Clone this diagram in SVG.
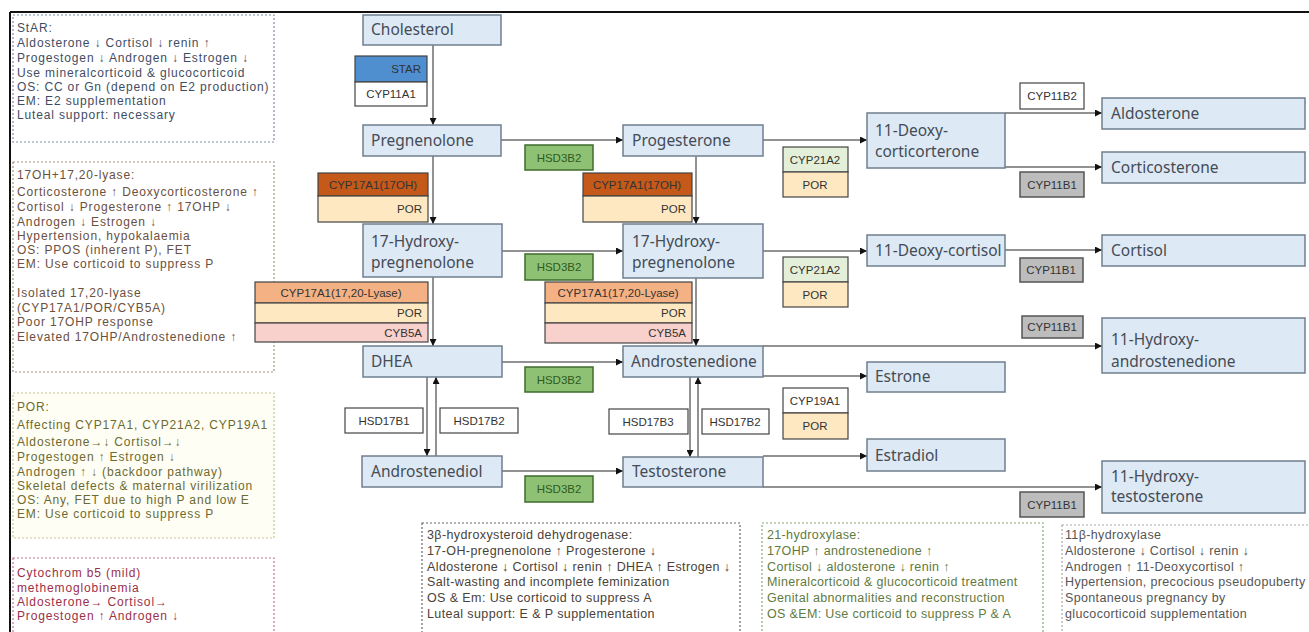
<svg xmlns="http://www.w3.org/2000/svg" width="1309" height="632" viewBox="0 0 1309 632">
<defs>
<marker id="ah" viewBox="0 0 10 10" refX="10" refY="5" markerWidth="7" markerHeight="7" markerUnits="userSpaceOnUse" orient="auto">
<path d="M0,0 L10,5 L0,10 z" fill="#111"/>
</marker>
<style>
.met{fill:#dde9f5;stroke:#6f7f8f;stroke-width:1.5}
.mt{font-family:"Noto Sans","Liberation Sans",sans-serif;font-size:15.5px;fill:#454c55}
.enz{stroke:#444;stroke-width:1.2}
.et{font-family:"Liberation Sans","Noto Sans",sans-serif;font-size:11.5px;fill:#333}
.grn{fill:#8fc174;stroke:#3f6b2c;stroke-width:1.5}
.gt{font-family:"Liberation Sans",sans-serif;font-size:11.5px;fill:#2f5a20}
.gry{fill:#bdbdbd;stroke:#555;stroke-width:1.5}
.wht{fill:#fff}
.por{fill:#fde8c2}
.cyb{fill:#f8d0cc}
.lya{fill:#f3b184}
.oh{fill:#c4591a}
.c21{fill:#e3efd9}
.conn line{stroke:#6e6e6e;stroke-width:1.5;marker-end:url(#ah)}
.note{stroke-width:1.2;stroke-dasharray:2,2}
.nt{font-family:"Liberation Sans","Noto Sans",sans-serif;font-size:12.5px;letter-spacing:0.4px}
.nl{font-size:12px;letter-spacing:0.85px}
.n11{letter-spacing:0.35px}
</style>
</defs>
<rect width="1309" height="632" fill="#fff"/>
<line x1="10" y1="12" x2="1309" y2="12" stroke="#111" stroke-width="2"/>
<line x1="10" y1="12" x2="10" y2="632" stroke="#111" stroke-width="2"/>

<!-- left notes -->
<g id="note-star">
<rect class="note" x="13" y="15" width="261" height="127" fill="#fff" stroke="#7d8ea8"/>
<text class="nt nl" fill="#3f4d63"><tspan x="17" y="32">StAR:</tspan><tspan x="17" y="47">Aldosterone ↓  Cortisol ↓  renin ↑</tspan><tspan x="17" y="62">Progestogen ↓  Androgen ↓  Estrogen ↓</tspan><tspan x="17" y="77">Use mineralcorticoid &amp; glucocorticoid</tspan><tspan x="17" y="91">OS: CC or Gn (depend on E2 production)</tspan><tspan x="17" y="105">EM: E2 supplementation</tspan><tspan x="17" y="119">Luteal support: necessary</tspan></text>
</g>
<g id="note-17oh">
<rect class="note" x="13" y="162" width="261" height="210" fill="#fff" stroke="#a39482"/>
<text class="nt nl" fill="#6a5040"><tspan x="17" y="179">17OH+17,20-lyase:</tspan><tspan x="17" y="196">Corticosterone ↑  Deoxycorticosterone ↑</tspan><tspan x="17" y="211">Cortisol ↓  Progesterone ↑  17OHP ↓</tspan><tspan x="17" y="226">Androgen ↓  Estrogen ↓</tspan><tspan x="17" y="240">Hypertension, hypokalaemia</tspan><tspan x="17" y="254">OS: PPOS (inherent P), FET</tspan><tspan x="17" y="268">EM: Use corticoid to suppress P</tspan><tspan x="17" y="297">Isolated 17,20-lyase</tspan><tspan x="17" y="312">(CYP17A1/POR/CYB5A)</tspan><tspan x="17" y="326">Poor 17OHP response</tspan><tspan x="17" y="341">Elevated 17OHP/Androstenedione ↑</tspan></text>
</g>
<g id="note-por">
<rect class="note" x="13" y="393" width="261" height="145" fill="#fffef5" stroke="#c9c48a"/>
<text class="nt nl" fill="#6c6a30"><tspan x="17" y="411">POR:</tspan><tspan x="17" y="429">Affecting CYP17A1, CYP21A2, CYP19A1</tspan><tspan x="17" y="446">Aldosterone→↓  Cortisol→↓</tspan><tspan x="17" y="461">Progestogen ↑  Estrogen ↓</tspan><tspan x="17" y="476">Androgen ↑ ↓ (backdoor pathway)</tspan><tspan x="17" y="490">Skeletal defects &amp; maternal virilization</tspan><tspan x="17" y="504">OS: Any, FET due to high P and low E</tspan><tspan x="17" y="518">EM: Use corticoid to suppress P</tspan></text>
</g>
<g id="note-cyb5">
<rect class="note" x="13" y="558" width="261" height="80" fill="#fff" stroke="#c27585"/>
<text class="nt nl" fill="#9c2f48"><tspan x="17" y="577">Cytochrom b5  (mild)</tspan><tspan x="17" y="592">methemoglobinemia</tspan><tspan x="17" y="606">Aldosterone→ Cortisol→</tspan><tspan x="17" y="620">Progestogen ↑  Androgen ↓</tspan></text>
</g>

<!-- bottom notes -->
<g id="note-3b">
<rect class="note" x="422" y="523" width="318" height="115" fill="#fff" stroke="#666"/>
<text class="nt" fill="#4a4238"><tspan x="427" y="539">3β-hydroxysteroid dehydrogenase:</tspan><tspan x="427" y="555">17-OH-pregnenolone ↑ Progesterone ↓</tspan><tspan x="427" y="571">Aldosterone ↓  Cortisol ↓ renin ↑ DHEA ↑ Estrogen ↓</tspan><tspan x="427" y="586">Salt-wasting and incomplete feminization</tspan><tspan x="427" y="602">OS &amp; Em: Use corticoid to suppress A</tspan><tspan x="427" y="618">Luteal support: E &amp; P supplementation</tspan></text>
</g>
<g id="note-21">
<rect class="note" x="762" y="523" width="281" height="115" fill="#fff" stroke="#8aa877"/>
<text class="nt n11" fill="#5f7a3e"><tspan x="767" y="539">21-hydroxylase:</tspan><tspan x="767" y="555">17OHP ↑  androstenedione ↑</tspan><tspan x="767" y="571">Cortisol ↓  aldosterone ↓  renin ↑</tspan><tspan x="767" y="586">Mineralcorticoid &amp; glucocorticoid treatment</tspan><tspan x="767" y="602">Genital abnormalities and reconstruction</tspan><tspan x="767" y="618">OS &amp;EM:  Use corticoid to suppress P &amp; A</tspan></text>
</g>
<g id="note-11b">
<rect class="note" x="1062" y="525" width="260" height="115" fill="#fff" stroke="#aaa"/>
<text class="nt n11" fill="#555"><tspan x="1065" y="539">11β-hydroxylase</tspan><tspan x="1065" y="555">Aldosterone ↓ Cortisol ↓ renin ↓</tspan><tspan x="1065" y="571">Androgen ↑  11-Deoxycortisol ↑</tspan><tspan x="1065" y="586">Hypertension, precocious pseudopuberty</tspan><tspan x="1065" y="602">Spontaneous pregnancy by</tspan><tspan x="1065" y="618">glucocorticoid supplementation</tspan></text>
</g>

<!-- connectors -->
<g id="connectors" class="conn">
<line x1="433" y1="45" x2="433" y2="125"/>
<line x1="433" y1="156" x2="433" y2="224"/>
<line x1="433" y1="277" x2="433" y2="346"/>
<line x1="427" y1="377" x2="427" y2="456"/>
<line x1="436" y1="456" x2="436" y2="377"/>
<line x1="501" y1="140" x2="623" y2="140"/>
<line x1="502" y1="251" x2="623" y2="251"/>
<line x1="502" y1="362" x2="623" y2="362"/>
<line x1="502" y1="471" x2="623" y2="471"/>
<line x1="696" y1="156" x2="696" y2="224"/>
<line x1="696" y1="278" x2="696" y2="346"/>
<line x1="690" y1="377" x2="690" y2="457"/>
<line x1="698" y1="457" x2="698" y2="377"/>
<line x1="763" y1="140" x2="867" y2="140"/>
<line x1="763" y1="251" x2="867" y2="251"/>
<line x1="763" y1="376" x2="867" y2="376"/>
<line x1="763" y1="346" x2="1102" y2="346"/>
<line x1="763" y1="456" x2="867" y2="456"/>
<line x1="763" y1="487" x2="1102" y2="487"/>
<line x1="1005" y1="113" x2="1102" y2="113"/>
<line x1="1005" y1="167" x2="1102" y2="167"/>
<line x1="1005" y1="250" x2="1102" y2="250"/>
</g>

<!-- metabolites -->
<g id="cholesterol"><rect class="met" x="363" y="15" width="138" height="30"/><text class="mt" x="371" y="35">Cholesterol</text></g>
<g id="pregnenolone"><rect class="met" x="363" y="125" width="138" height="31"/><text class="mt" x="371" y="146">Pregnenolone</text></g>
<g id="oh-pregnenolone-1"><rect class="met" x="363" y="224" width="139" height="53"/><text class="mt"><tspan x="371" y="247">17-Hydroxy-</tspan><tspan x="371" y="268">pregnenolone</tspan></text></g>
<g id="dhea"><rect class="met" x="363" y="346" width="139" height="31"/><text class="mt" x="371" y="367">DHEA</text></g>
<g id="androstenediol"><rect class="met" x="362" y="456" width="140" height="31"/><text class="mt" x="371" y="477">Androstenediol</text></g>
<g id="progesterone"><rect class="met" x="623" y="125" width="140" height="31"/><text class="mt" x="632" y="146">Progesterone</text></g>
<g id="oh-pregnenolone-2"><rect class="met" x="623" y="224" width="140" height="54"/><text class="mt"><tspan x="632" y="247">17-Hydroxy-</tspan><tspan x="632" y="268">pregnenolone</tspan></text></g>
<g id="androstenedione"><rect class="met" x="623" y="346" width="140" height="31"/><text class="mt" x="631" y="367">Androstenedione</text></g>
<g id="testosterone"><rect class="met" x="623" y="457" width="140" height="30"/><text class="mt" x="632" y="477">Testosterone</text></g>
<g id="deoxycorticosterone"><rect class="met" x="867" y="113" width="138" height="55"/><text class="mt"><tspan x="875" y="136">11-Deoxy-</tspan><tspan x="875" y="157">corticorterone</tspan></text></g>
<g id="deoxycortisol"><rect class="met" x="867" y="235" width="138" height="31"/><text class="mt" x="875" y="256">11-Deoxy-cortisol</text></g>
<g id="estrone"><rect class="met" x="867" y="362" width="138" height="30"/><text class="mt" x="875" y="382">Estrone</text></g>
<g id="estradiol"><rect class="met" x="867" y="439" width="138" height="32"/><text class="mt" x="875" y="461">Estradiol</text></g>
<g id="aldosterone"><rect class="met" x="1102" y="98" width="203" height="31"/><text class="mt" x="1111" y="119">Aldosterone</text></g>
<g id="corticosterone"><rect class="met" x="1102" y="152" width="203" height="31"/><text class="mt" x="1111" y="173">Corticosterone</text></g>
<g id="cortisol"><rect class="met" x="1102" y="235" width="203" height="31"/><text class="mt" x="1111" y="256">Cortisol</text></g>
<g id="oh-androstenedione"><rect class="met" x="1102" y="318" width="203" height="55"/><text class="mt"><tspan x="1111" y="345">11-Hydroxy-</tspan><tspan x="1111" y="367">androstenedione</tspan></text></g>
<g id="oh-testosterone"><rect class="met" x="1102" y="461" width="203" height="52"/><text class="mt"><tspan x="1111" y="482">11-Hydroxy-</tspan><tspan x="1111" y="502">testosterone</tspan></text></g>

<!-- enzymes -->
<g id="star-cyp11a1">
<rect class="enz" x="355" y="56" width="72" height="26" fill="#4f8fd0"/><text class="et" x="421" y="73" text-anchor="end" fill="#1c3d78">STAR</text>
<rect class="enz wht" x="355" y="82" width="72" height="24"/><text class="et" x="391" y="98" text-anchor="middle">CYP11A1</text>
</g>
<g id="cyp17-17oh-1">
<rect class="enz oh" x="318" y="173" width="110" height="23"/><text class="et" x="373" y="189" text-anchor="middle" fill="#f7c9aa">CYP17A1(17OH)</text>
<rect class="enz por" x="318" y="196" width="110" height="26"/><text class="et" x="422" y="213" text-anchor="end">POR</text>
</g>
<g id="cyp17-17oh-2">
<rect class="enz oh" x="583" y="173" width="109" height="23"/><text class="et" x="637" y="189" text-anchor="middle" fill="#f7c9aa">CYP17A1(17OH)</text>
<rect class="enz por" x="583" y="196" width="109" height="26"/><text class="et" x="686" y="213" text-anchor="end">POR</text>
</g>
<g id="cyp17-lyase-1">
<rect class="enz lya" x="255" y="282" width="173" height="21"/><text class="et" x="341" y="297" text-anchor="middle" fill="#6e3410">CYP17A1(17,20-Lyase)</text>
<rect class="enz por" x="255" y="303" width="173" height="20"/><text class="et" x="422" y="317" text-anchor="end">POR</text>
<rect class="enz cyb" x="255" y="323" width="173" height="19"/><text class="et" x="422" y="337" text-anchor="end">CYB5A</text>
</g>
<g id="cyp17-lyase-2">
<rect class="enz lya" x="545" y="282" width="147" height="21"/><text class="et" x="618" y="297" text-anchor="middle" fill="#6e3410">CYP17A1(17,20-Lyase)</text>
<rect class="enz por" x="545" y="303" width="147" height="20"/><text class="et" x="686" y="317" text-anchor="end">POR</text>
<rect class="enz cyb" x="545" y="323" width="147" height="20"/><text class="et" x="686" y="337" text-anchor="end">CYB5A</text>
</g>
<g id="hsd3b2-1"><rect class="grn" x="525" y="145" width="68" height="25"/><text class="gt" x="559" y="162" text-anchor="middle">HSD3B2</text></g>
<g id="hsd3b2-2"><rect class="grn" x="525" y="254" width="68" height="26"/><text class="gt" x="559" y="271" text-anchor="middle">HSD3B2</text></g>
<g id="hsd3b2-3"><rect class="grn" x="525" y="367" width="68" height="25"/><text class="gt" x="559" y="384" text-anchor="middle">HSD3B2</text></g>
<g id="hsd3b2-4"><rect class="grn" x="525" y="476" width="68" height="26"/><text class="gt" x="559" y="493" text-anchor="middle">HSD3B2</text></g>
<g id="hsd17b1"><rect class="enz wht" x="345" y="408" width="78" height="25"/><text class="et" x="384" y="425" text-anchor="middle">HSD17B1</text></g>
<g id="hsd17b2-1"><rect class="enz wht" x="440" y="408" width="78" height="25"/><text class="et" x="479" y="425" text-anchor="middle">HSD17B2</text></g>
<g id="hsd17b3"><rect class="enz wht" x="609" y="409" width="79" height="25" stroke="#999"/><text class="et" x="648" y="426" text-anchor="middle">HSD17B3</text></g>
<g id="hsd17b2-2"><rect class="enz wht" x="702" y="409" width="67" height="25"/><text class="et" x="735" y="426" text-anchor="middle">HSD17B2</text></g>
<g id="cyp21a2-1">
<rect class="enz c21" x="783" y="147" width="65" height="25"/><text class="et" x="815" y="164" text-anchor="middle">CYP21A2</text>
<rect class="enz por" x="783" y="172" width="65" height="25"/><text class="et" x="815" y="189" text-anchor="middle">POR</text>
</g>
<g id="cyp21a2-2">
<rect class="enz c21" x="783" y="257" width="65" height="25"/><text class="et" x="815" y="274" text-anchor="middle">CYP21A2</text>
<rect class="enz por" x="783" y="282" width="65" height="25"/><text class="et" x="815" y="299" text-anchor="middle">POR</text>
</g>
<g id="cyp19a1">
<rect class="enz wht" x="783" y="388" width="65" height="25"/><text class="et" x="815" y="405" text-anchor="middle">CYP19A1</text>
<rect class="enz por" x="783" y="413" width="65" height="26"/><text class="et" x="815" y="430" text-anchor="middle">POR</text>
</g>
<g id="cyp11b2"><rect class="enz wht" x="1020" y="83" width="64" height="26"/><text class="et" x="1052" y="100" text-anchor="middle">CYP11B2</text></g>
<g id="cyp11b1-1"><rect class="gry" x="1020" y="172" width="64" height="25"/><text class="et" x="1052" y="189" text-anchor="middle">CYP11B1</text></g>
<g id="cyp11b1-2"><rect class="gry" x="1020" y="258" width="63" height="24"/><text class="et" x="1051" y="274" text-anchor="middle">CYP11B1</text></g>
<g id="cyp11b1-3"><rect class="gry" x="1022" y="316" width="61" height="22"/><text class="et" x="1052" y="331" text-anchor="middle">CYP11B1</text></g>
<g id="cyp11b1-4"><rect class="gry" x="1020" y="492" width="64" height="25"/><text class="et" x="1052" y="509" text-anchor="middle">CYP11B1</text></g>
</svg>
